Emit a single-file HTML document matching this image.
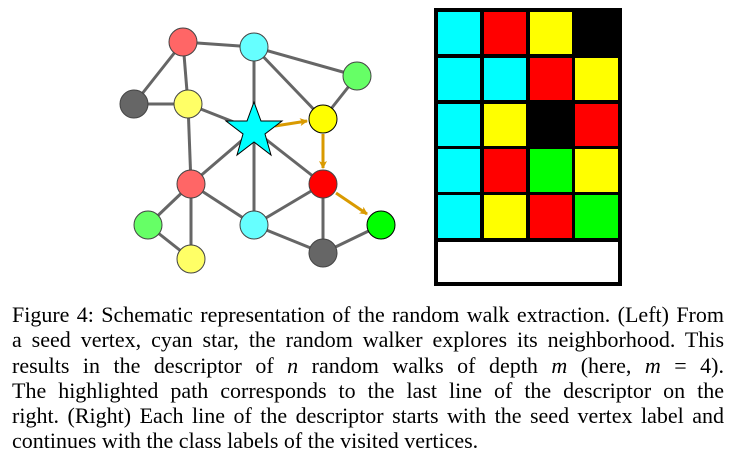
<!DOCTYPE html>
<html><head><meta charset="utf-8"><style>
body{margin:0;width:736px;height:456px;background:#fff;overflow:hidden;position:relative}
svg{position:absolute;left:0;top:0}
.cap{position:absolute;left:12px;top:302px;width:712px;font-family:"Liberation Serif",serif;font-size:22px;line-height:25.3px;color:#000}
.cap div{text-align:justify;text-align-last:justify;white-space:nowrap}
.cap div.l{text-align-last:left}
i{font-style:italic}
</style></head><body>
<svg width="736" height="300" viewBox="0 0 736 300">
<defs><marker id="a" markerWidth="8" markerHeight="8" refX="7" refY="4" orient="auto" markerUnits="userSpaceOnUse"><path d="M0,0 L8,4 L0,8 L2,4z" fill="#d99a00"/></marker></defs>
<g stroke="#666" stroke-width="3">
<line x1="183" y1="42" x2="254" y2="47"/><line x1="183" y1="42" x2="134" y2="104"/><line x1="183" y1="42" x2="188" y2="104"/>
<line x1="134" y1="104" x2="188" y2="104"/><line x1="254" y1="47" x2="254" y2="130"/><line x1="254" y1="47" x2="323" y2="119"/>
<line x1="254" y1="47" x2="357" y2="76"/><line x1="357" y1="76" x2="323" y2="119"/><line x1="188" y1="104" x2="254" y2="130"/>
<line x1="188" y1="104" x2="191" y2="184"/><line x1="254" y1="130" x2="191" y2="184"/><line x1="254" y1="130" x2="254" y2="225"/>
<line x1="254" y1="130" x2="323" y2="184"/><line x1="191" y1="184" x2="148" y2="225"/><line x1="191" y1="184" x2="191" y2="259"/>
<line x1="148" y1="225" x2="191" y2="259"/><line x1="191" y1="184" x2="254" y2="225"/><line x1="254" y1="225" x2="323" y2="184"/>
<line x1="254" y1="225" x2="323" y2="253"/><line x1="323" y1="184" x2="323" y2="253"/><line x1="323" y1="253" x2="381" y2="225"/>
</g>
<g stroke="#d99a00" stroke-width="3" marker-end="url(#a)">
<line x1="275" y1="126" x2="307" y2="121"/><line x1="323" y1="134" x2="323" y2="168"/><line x1="336" y1="193" x2="367" y2="214"/>
</g>
<g stroke="#444" stroke-width="1">
<circle cx="183" cy="42" r="14" fill="#ff6666"/><circle cx="254" cy="47" r="14" fill="#66ffff"/><circle cx="357" cy="76" r="14" fill="#66ff66"/>
<circle cx="134" cy="104" r="14" fill="#666"/><circle cx="188" cy="104" r="14" fill="#ffff66"/><circle cx="323" cy="119" r="14" fill="#ffff00" stroke="#000"/>
<circle cx="191" cy="184" r="14" fill="#ff6666"/><circle cx="323" cy="184" r="14" fill="#ff0000"/><circle cx="148" cy="225" r="14" fill="#66ff66"/>
<circle cx="254" cy="225" r="14" fill="#66ffff"/><circle cx="381" cy="225" r="14" fill="#00ff00" stroke="#000"/><circle cx="191" cy="259" r="14" fill="#ffff66"/>
<circle cx="323" cy="253" r="14" fill="#666"/>
</g>
<polygon fill="#00ffff" stroke="#000" stroke-width="1" points="254,102 261,121 282,121 265,134 271,155 254,142 237,155 243,134 226,121 247,121"/>
<rect x="434" y="8" width="188" height="278" fill="#000"/>
<g>
<rect x="438" y="12" width="42" height="42" fill="#0ff"/><rect x="484" y="12" width="42" height="42" fill="#f00"/><rect x="530" y="12" width="42" height="42" fill="#ff0"/>
<rect x="438" y="58" width="42" height="42" fill="#0ff"/><rect x="484" y="58" width="42" height="42" fill="#0ff"/><rect x="530" y="58" width="42" height="42" fill="#f00"/><rect x="575" y="58" width="43" height="42" fill="#ff0"/>
<rect x="438" y="104" width="42" height="42" fill="#0ff"/><rect x="484" y="104" width="42" height="42" fill="#ff0"/><rect x="575" y="104" width="43" height="42" fill="#f00"/>
<rect x="438" y="149" width="42" height="43" fill="#0ff"/><rect x="484" y="149" width="42" height="43" fill="#f00"/><rect x="530" y="149" width="42" height="43" fill="#0f0"/><rect x="575" y="149" width="43" height="43" fill="#ff0"/>
<rect x="438" y="195" width="42" height="43" fill="#0ff"/><rect x="484" y="195" width="42" height="43" fill="#ff0"/><rect x="530" y="195" width="42" height="43" fill="#f00"/><rect x="575" y="195" width="43" height="43" fill="#0f0"/>
<rect x="438" y="242" width="180" height="40" fill="#fff"/>
</g>
</svg>
<div class="cap">
<div>Figure 4: Schematic representation of the random walk extraction. (Left) From</div>
<div>a seed vertex, cyan star, the random walker explores its neighborhood. This</div>
<div>results in the descriptor of <i>n</i> random walks of depth <i>m</i> (here, <i>m</i> = 4).</div>
<div>The highlighted path corresponds to the last line of the descriptor on the</div>
<div>right. (Right) Each line of the descriptor starts with the seed vertex label and</div>
<div class="l">continues with the class labels of the visited vertices.</div>
</div>
</body></html>
